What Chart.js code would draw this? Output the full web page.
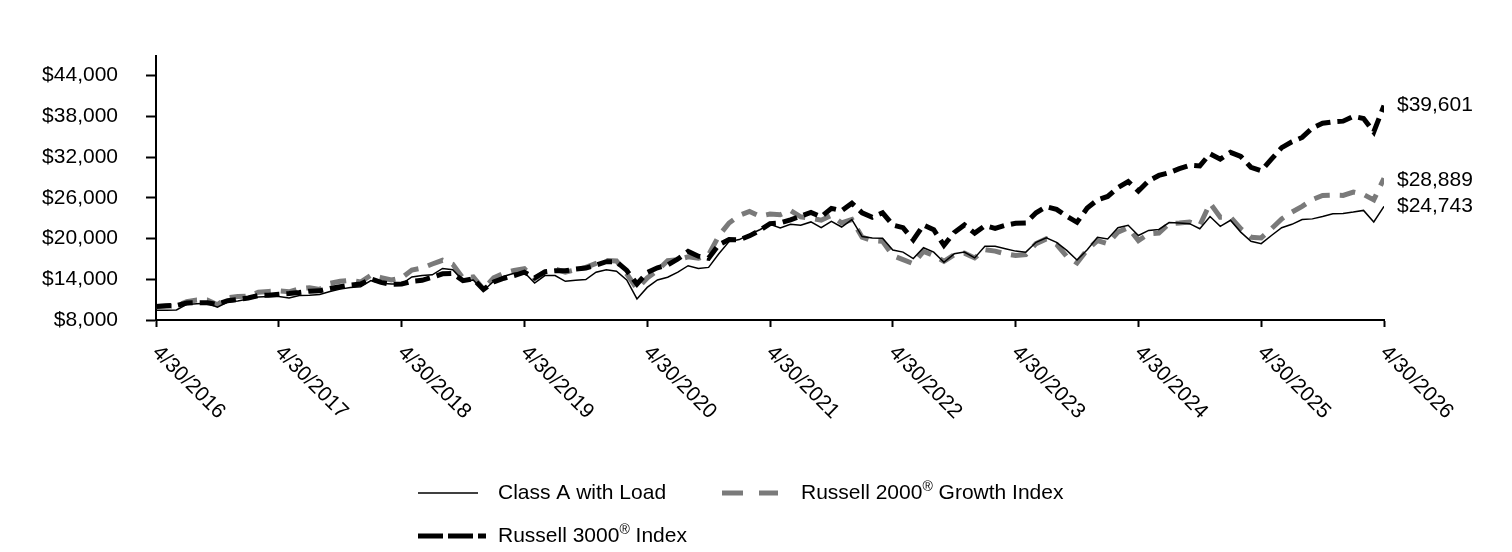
<!DOCTYPE html>
<html>
<head>
<meta charset="utf-8">
<script src="https://cdn.jsdelivr.net/npm/chart.js@4.4.1/dist/chart.umd.min.js"></script>
<style>
  html, body { margin: 0; padding: 0; background: #fff; }
  #chart { display: block; }
</style>
</head>
<body>
<canvas id="chart" width="1512" height="552"></canvas>
<script>
// x axis: month index from 4/30/2016 (0) to 4/30/2026 (120)
const tickMonths = [0, 12, 24, 36, 48, 60, 72, 84, 96, 108, 120];
const tickLabels = ['4/30/2016', '4/30/2017', '4/30/2018', '4/30/2019', '4/30/2020', '4/30/2021',
  '4/30/2022', '4/30/2023', '4/30/2024', '4/30/2025', '4/30/2026'];
const yTicks = [8000, 14000, 20000, 26000, 32000, 38000, 44000];

const classA = [
  9425, 9450, 9480, 10300, 10400, 10450, 9900, 10650, 10800, 11100,
  11400, 11450, 11450, 11250, 11600, 11650, 11750, 12200, 12550, 12800,
  12900, 13800, 13400, 13300, 13300, 14350, 14550, 14650, 15600, 15400,
  13800, 13900, 12350, 13700, 14450, 14900, 15000, 13450, 14550, 14550,
  13700, 13850, 13950, 15050, 15400, 15200, 13900, 11100, 12800, 13900,
  14300, 15050, 16000, 15600, 15750, 17750, 19550, 19850, 20600, 21300,
  22100, 21550, 22100, 21950, 22450, 21600, 22550, 21700, 22800, 20300,
  20100, 20050, 18300, 18000, 17050, 18650, 18000, 16500, 17750, 18000,
  17150, 18850, 18850, 18500, 18150, 18000, 19450, 20100, 19450, 18250,
  16850, 18350, 20200, 19950, 21600, 21950, 20450, 21200, 21350, 22350,
  22300, 22200, 21450, 23250, 21800, 22700, 20950, 19600, 19250, 20450,
  21600, 22100, 22800, 22900, 23250, 23650, 23700, 23900, 24150, 22450,
  24743
];

const russell2000G = [
  10000, 10050, 10050, 10700, 10950, 10950, 10250, 11300, 11450, 11500,
  12100, 12200, 12300, 12150, 12600, 12750, 12500, 13400, 13700, 13850,
  13600, 14600, 14250, 13900, 14200, 15350, 15650, 16250, 16800, 16200,
  14150, 14350, 12550, 14200, 14900, 15300, 15550, 14100, 15100, 15500,
  15050, 15400, 15750, 16350, 16750, 16700, 14800, 12600, 14200, 15300,
  16750, 16900, 17300, 17100, 17600, 20400, 22300, 23400, 24000, 23300,
  23600, 23500, 24150, 23200, 23000, 22700, 23400, 22300, 22800, 20200,
  19700, 19600, 17500, 16900, 16300, 18100, 17500, 16650, 17600, 17850,
  17150, 18350, 18150, 17750, 17500, 17650, 19250, 19950, 19150, 17350,
  16400, 18350, 19700, 19250, 20950, 21600, 19700, 20700, 20800, 22200,
  22300, 22450, 21950, 25200, 23150, 23150, 21450, 20200, 20100, 21450,
  22900, 23900, 24750, 25750, 26350, 26400, 26350, 26850, 26500, 25700,
  28889
];

const russell3000 = [
  10000, 10100, 10150, 10500, 10550, 10550, 10300, 10850, 11000, 11250,
  11600, 11650, 11800, 11900, 12050, 12250, 12300, 12650, 12900, 13150,
  13300, 14050, 13550, 13250, 13300, 13700, 13850, 14300, 14800, 14850,
  13800, 14050, 12500, 13600, 14150, 14550, 15050, 14200, 15100, 15250,
  15250, 15500, 15650, 16100, 16600, 16600, 15300, 13300, 15000, 15700,
  16100, 17000, 18100, 17400, 17100, 19100, 19850, 19800, 20400, 21200,
  22200, 22300, 22750, 23300, 23850, 23200, 24450, 24100, 25200, 23800,
  23150, 23800, 22000, 21600, 19800, 22000, 21300, 19000, 20900, 22000,
  20800, 21900, 21500, 21950, 22250, 22300, 23800, 24700, 24300, 23300,
  22400, 24500, 25700, 26200, 27500, 28400, 27000, 28500, 29300, 29700,
  30300, 30800, 30700, 32500, 31700, 32700, 32100, 30500, 30000, 31700,
  33400, 34250, 34900, 36300, 37000, 37200, 37300, 38000, 37700, 35700,
  39601
];

const seriesNames = ['Class A with Load', 'Russell 2000', 'Russell 3000'];
const endLabels = ['$24,743', '$28,889', '$39,601'];

const FONT = 'Arial, "Liberation Sans", sans-serif';
const GRAY = '#7a7a7a';

const toPoints = arr => arr.map((v, i) => ({ x: i, y: v }));
const money = v => '$' + v.toLocaleString('en-US');

// custom x labels, end-of-line values and legend
const overlay = {
  id: 'overlay',
  afterDraw(chart) {
    const ctx = chart.ctx;
    const xs = chart.scales.x;
    const ys = chart.scales.y;
    ctx.save();
    ctx.fillStyle = '#000';
    ctx.font = '21px ' + FONT;

    // rotated date labels
    ctx.textAlign = 'left';
    ctx.textBaseline = 'top';
    tickMonths.forEach((m, i) => {
      const x = xs.getPixelForValue(m);
      ctx.save();
      ctx.translate(x + 7, 342);
      ctx.rotate(Math.PI / 4);
      ctx.fillText(tickLabels[i], 0, 0);
      ctx.restore();
    });

    // end values
    ctx.textBaseline = 'middle';
    const last = [classA, russell2000G, russell3000].map(a => a[a.length - 1]);
    const nudge = [0, 2, 0];
    last.forEach((v, i) => {
      ctx.fillText(endLabels[i], xs.right + 13, ys.getPixelForValue(v) + nudge[i]);
    });

    // legend
    const drawLine = (x1, x2, y, color, width, dash) => {
      ctx.save();
      ctx.strokeStyle = color;
      ctx.lineWidth = width;
      ctx.setLineDash(dash);
      ctx.beginPath();
      ctx.moveTo(x1, y);
      ctx.lineTo(x2, y);
      ctx.stroke();
      ctx.restore();
    };
    const drawReg = (x, y, before, after) => {
      ctx.font = '21px ' + FONT;
      ctx.fillText(before, x, y);
      let w = ctx.measureText(before).width;
      ctx.font = '14px ' + FONT;
      ctx.fillText('®', x + w, y - 6);
      w += ctx.measureText('®').width;
      ctx.font = '21px ' + FONT;
      ctx.fillText(after, x + w, y);
    };

    drawLine(418, 478, 493, '#000', 1.5, []);
    ctx.fillText(seriesNames[0], 498, 493);

    drawLine(722, 778, 493, GRAY, 5, [21, 16]);
    drawReg(801, 493, seriesNames[1], ' Growth Index');

    drawLine(418, 486, 536, '#000', 5, [25, 5]);
    drawReg(498, 536, seriesNames[2], ' Index');

    ctx.restore();
  }
};

new Chart(document.getElementById('chart'), {
  type: 'line',
  data: {
    datasets: [
      {
        label: seriesNames[0],
        data: toPoints(classA),
        borderColor: '#000',
        borderWidth: 1.5,
        order: 0
      },
      {
        label: seriesNames[1],
        data: toPoints(russell2000G),
        borderColor: GRAY,
        borderWidth: 5,
        borderDash: [16, 10],
        order: 2
      },
      {
        label: seriesNames[2],
        data: toPoints(russell3000),
        borderColor: '#000',
        borderWidth: 5,
        borderDash: [15, 7],
        order: 1
      }
    ]
  },
  options: {
    responsive: false,
    animation: false,
    devicePixelRatio: 1,
    elements: {
      point: { radius: 0 },
      line: { tension: 0, fill: false, borderCapStyle: 'butt', borderJoinStyle: 'miter' }
    },
    layout: { padding: { left: 0, right: 128, top: 56, bottom: 0 } },
    plugins: {
      legend: { display: false },
      tooltip: { enabled: false }
    },
    scales: {
      x: {
        type: 'linear',
        min: 0,
        max: 120,
        afterBuildTicks: s => { s.ticks = tickMonths.map(v => ({ value: v })); },
        afterFit: s => { s.height = 232; },
        ticks: { display: false },
        grid: { drawOnChartArea: false, drawTicks: true, tickLength: 7, tickWidth: 2, tickColor: '#000' },
        border: { display: true, color: '#000', width: 2 }
      },
      y: {
        min: 8000,
        max: 46900,
        afterBuildTicks: s => { s.ticks = yTicks.map(v => ({ value: v })); },
        afterFit: s => { s.width = 156; },
        ticks: {
          color: '#000',
          padding: 28,
          font: { family: FONT, size: 21 },
          callback: v => money(v)
        },
        grid: { drawOnChartArea: false, drawTicks: true, tickLength: 10, tickWidth: 2, tickColor: '#000' },
        border: { display: true, color: '#000', width: 2 }
      }
    }
  },
  plugins: [overlay]
});
</script>
</body>
</html>
